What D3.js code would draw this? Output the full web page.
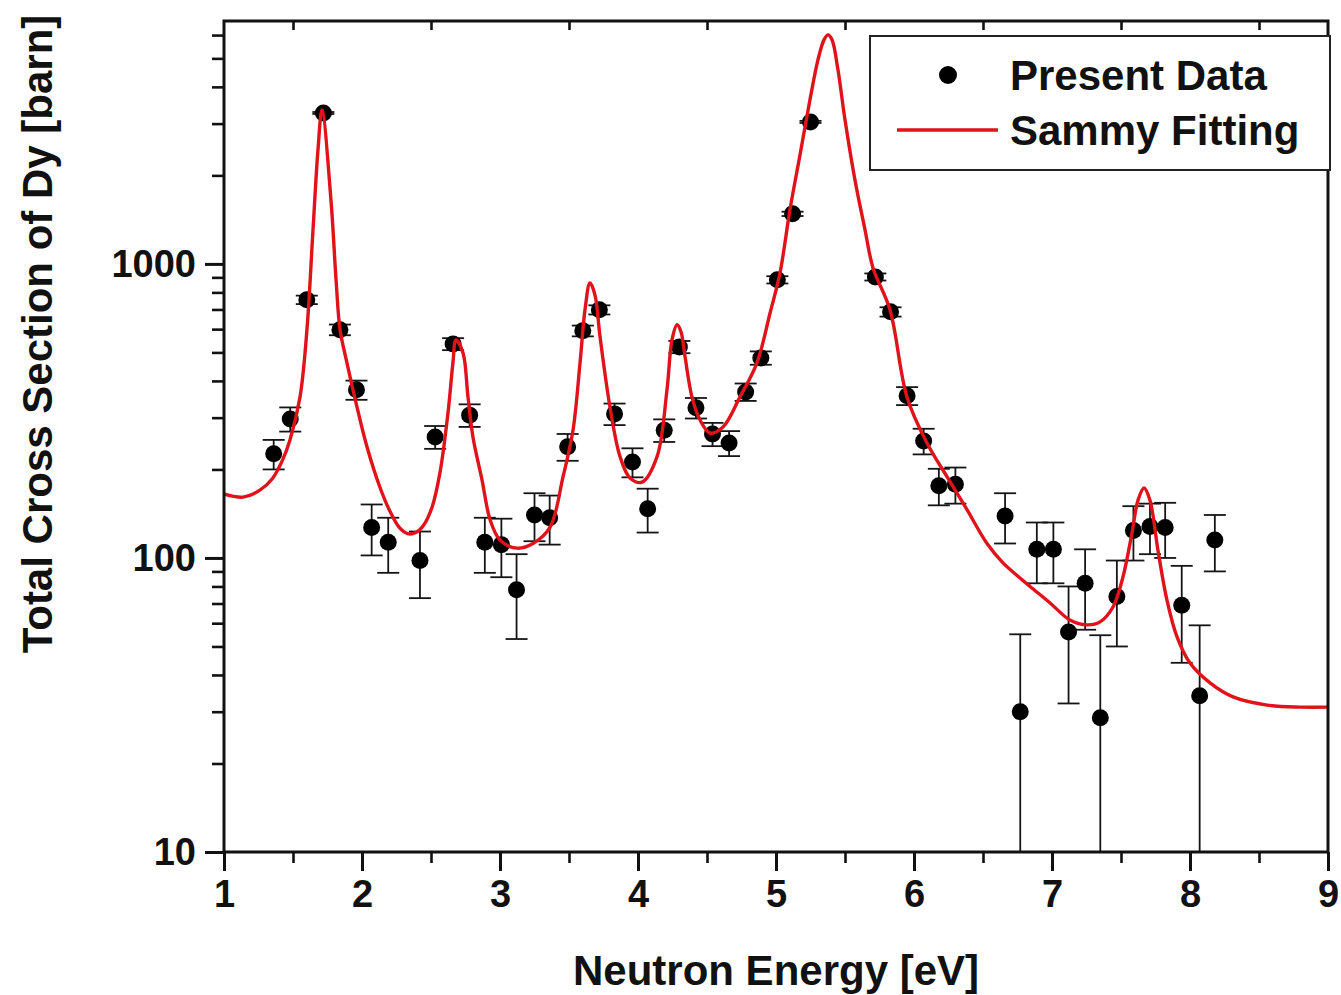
<!DOCTYPE html>
<html>
<head>
<meta charset="utf-8">
<script src="https://cdn.jsdelivr.net/npm/d3@7"></script>
<style>
  html, body { margin: 0; padding: 0; background: #fff; }
  svg { display: block; font-family: "Liberation Sans", Arial, sans-serif; font-weight: bold; }
</style>
</head>
<body>
<svg id="chart" width="1341" height="995"></svg>
<script>
// Measured total cross section of Dy (barn) versus neutron energy (eV)
const energy = [1.36, 1.48, 1.60, 1.72, 1.84, 1.96, 2.07, 2.19, 2.42, 2.53,
                2.66, 2.78, 2.89, 3.01, 3.12, 3.25, 3.36, 3.49, 3.60, 3.72,
                3.83, 3.96, 4.07, 4.19, 4.30, 4.42, 4.54, 4.66, 4.78, 4.89,
                5.01, 5.12, 5.25, 5.72, 5.83, 5.95, 6.07, 6.18, 6.30, 6.66,
                6.77, 6.89, 7.01, 7.12, 7.24, 7.35, 7.47, 7.59, 7.71, 7.82,
                7.94, 8.07, 8.18];
const crossSection = [226, 297, 755, 3260, 597, 373, 127, 113, 98, 258,
                      534, 306, 113, 111, 78, 140, 137, 239, 592, 698,
                      309, 212, 147, 272, 522, 324, 264, 246, 367, 479,
                      883, 1480, 3040, 903, 687, 356, 250, 176, 178, 139,
                      30, 107, 107, 56, 82, 28.6, 74, 124, 128, 127,
                      69, 34, 115];
const uncertainty = [26, 28, 25, 25, 25, 28, 25, 24, 25, 23,
                     25, 27, 24, 25, 25, 26, 26, 25, 25, 25,
                     26, 24, 25, 24, 25, 26, 24, 24, 25, 25,
                     25, 25, 25, 25, 25, 25, 25, 25, 25, 27,
                     25, 25, 25, 24, 25, 26, 24, 26, 25, 27,
                     25, 25, 25];

// SAMMY resonance-fit curve
const fitEnergy = [1.000, 1.138, 1.260, 1.350, 1.420, 1.478, 1.551, 1.601, 1.645, 1.681, 1.710,
                   1.775, 1.812, 1.841, 1.891, 1.964, 2.036, 2.130, 2.200, 2.270, 2.330,
                   2.390, 2.450, 2.510, 2.565, 2.623, 2.659, 2.681, 2.732, 2.768, 2.804,
                   2.870, 2.928, 3.000, 3.123, 3.239, 3.362, 3.457, 3.529, 3.580, 3.616,
                   3.652, 3.688, 3.725, 3.797, 3.870, 3.942, 4.029, 4.138, 4.210, 4.246,
                   4.283, 4.312, 4.341, 4.391, 4.449, 4.522, 4.616, 4.739, 4.862, 4.957,
                   5.029, 5.101, 5.174, 5.246, 5.304, 5.348, 5.377, 5.406, 5.449, 5.500,
                   5.572, 5.645, 5.703, 5.826, 5.949, 6.094, 6.239, 6.384, 6.529, 6.645,
                   6.768, 6.841, 6.986, 7.130, 7.254, 7.348, 7.442, 7.514, 7.580, 7.623,
                   7.667, 7.710, 7.768, 7.833, 7.906, 8.000, 8.145, 8.312, 8.558, 8.797,
                   9.000];
const fitCrossSection = [165, 161, 170, 186, 213, 252, 353, 597, 1306, 2443, 3340,
                         1651, 883, 597, 461, 326, 239, 174, 145, 127, 121,
                         122, 130, 150, 195, 311, 461, 551, 498, 353, 258,
                         184, 135, 115, 108, 112, 127, 189, 272, 461, 698,
                         861, 785, 565, 326, 221, 187, 181, 221, 373, 551,
                         621, 587, 483, 353, 295, 266, 279, 353, 461, 681,
                         932, 1527, 2349, 3613, 4943, 5781, 6010, 5781, 4571, 3090,
                         1931, 1306, 969, 698, 353, 246, 189, 146, 112, 96.2,
                         85.5, 80.0, 70.3, 61.5, 59.2, 60.6, 68.1, 86.1, 122, 157,
                         173, 157, 106, 71.9, 53.9, 43.9, 37.6, 33.7, 31.6, 31.1,
                         31.1];

const xMajorTicks = [1, 2, 3, 4, 5, 6, 7, 8, 9];
const xMinorTicks = [1.5, 2.5, 3.5, 4.5, 5.5, 6.5, 7.5, 8.5];
const yMajorTicks = [10, 100, 1000];
const yMinorTicks = [20, 30, 40, 50, 60, 70, 80, 90,
                     200, 300, 400, 500, 600, 700, 800, 900,
                     2000, 3000, 4000, 5000, 6000];
const legendLabels = ["Present Data", "Sammy Fitting"];

const svg = d3.select("#chart");
const frameLeft = 224, frameRight = 1328, frameTop = 21, frameBottom = 852;
const red = "#e0121a", ink = "#111";

const x = d3.scaleLinear().domain([1, 9]).range([frameLeft, frameRight]);
const y = d3.scaleLog().domain([10, 6700]).range([frameBottom, frameTop]);

svg.append("defs").append("clipPath").attr("id", "plot")
  .append("rect").attr("x", frameLeft).attr("y", frameTop)
  .attr("width", frameRight - frameLeft).attr("height", frameBottom - frameTop);

function styleAxis(g, width) {
  g.select(".domain").remove();
  g.selectAll(".tick line").attr("stroke", ink).attr("stroke-width", width);
  g.selectAll(".tick text").attr("fill", ink)
    .style("font-family", "'Liberation Sans', Arial, sans-serif")
    .style("font-weight", "bold");
}

// bottom axis: labelled majors and half-unit minors, ticks outward
svg.append("g").attr("transform", `translate(0,${frameBottom})`)
  .call(d3.axisBottom(x).tickValues(xMajorTicks).tickSize(19).tickPadding(9).tickFormat(d3.format("d")))
  .call(g => { styleAxis(g, 3); g.selectAll(".tick text").style("font-size", "38px"); });
svg.append("g").attr("transform", `translate(0,${frameBottom})`)
  .call(d3.axisBottom(x).tickValues(xMinorTicks).tickSize(11).tickFormat(""))
  .call(g => styleAxis(g, 2.6));

// top axis: short inward ticks at half units
svg.append("g").attr("transform", `translate(0,${frameTop})`)
  .call(d3.axisBottom(x).tickValues(xMinorTicks).tickSize(9).tickFormat(""))
  .call(g => styleAxis(g, 2.6));

// left log axis, ticks outward
svg.append("g").attr("transform", `translate(${frameLeft},0)`)
  .call(d3.axisLeft(y).tickValues(yMajorTicks).tickSize(19).tickPadding(9).tickFormat(d3.format("d")))
  .call(g => { styleAxis(g, 3); g.selectAll(".tick text").style("font-size", "38px"); });
svg.append("g").attr("transform", `translate(${frameLeft},0)`)
  .call(d3.axisLeft(y).tickValues(yMinorTicks).tickSize(12).tickFormat(""))
  .call(g => styleAxis(g, 2.6));

// data layer, clipped to the frame
const plot = svg.append("g").attr("clip-path", "url(#plot)");

const pts = energy.map((e, i) => ({ e, v: crossSection[i], err: uncertainty[i] }));

const bars = plot.append("g").attr("stroke", "#151515").attr("stroke-width", 1.8);
pts.forEach(d => {
  const lo = Math.max(d.v - d.err, 1e-3);
  const hi = d.v + d.err;
  const cx = x(d.e);
  const yHi = y(hi);
  const yLo = Math.min(y(lo), frameBottom + 20);
  bars.append("line").attr("x1", cx).attr("x2", cx).attr("y1", yHi).attr("y2", yLo);
  bars.append("line").attr("x1", cx - 11).attr("x2", cx + 11).attr("y1", yHi).attr("y2", yHi);
  if (y(lo) < frameBottom) {
    bars.append("line").attr("x1", cx - 11).attr("x2", cx + 11).attr("y1", y(lo)).attr("y2", y(lo));
  }
});

plot.append("g").selectAll("circle").data(pts).join("circle")
  .attr("cx", d => x(d.e)).attr("cy", d => y(d.v)).attr("r", 8.5)
  .attr("fill", "#000");

const fit = fitEnergy.map((e, i) => [e, fitCrossSection[i]]);
plot.append("path").datum(fit)
  .attr("fill", "none").attr("stroke", red).attr("stroke-width", 3.4)
  .attr("stroke-linejoin", "round")
  .attr("d", d3.line().x(d => x(d[0])).y(d => y(d[1])).curve(d3.curveCatmullRom.alpha(0.5)));

// frame
svg.append("rect").attr("x", frameLeft).attr("y", frameTop)
  .attr("width", frameRight - frameLeft).attr("height", frameBottom - frameTop)
  .attr("fill", "none").attr("stroke", ink).attr("stroke-width", 3);

// legend
const lg = svg.append("g");
lg.append("rect").attr("x", 870).attr("y", 36).attr("width", 460).attr("height", 134)
  .attr("fill", "#fff").attr("stroke", "#222").attr("stroke-width", 2);
lg.append("circle").attr("cx", 948).attr("cy", 75).attr("r", 9).attr("fill", "#000");
lg.append("line").attr("x1", 897).attr("x2", 998).attr("y1", 130).attr("y2", 130)
  .attr("stroke", red).attr("stroke-width", 3.4);
lg.selectAll("text").data(legendLabels).join("text")
  .attr("x", 1010).attr("y", (d, i) => 90 + i * 55)
  .attr("fill", ink).style("font-size", "42px").text(d => d);

// axis titles
svg.append("text").attr("x", (frameLeft + frameRight) / 2).attr("y", 985)
  .attr("text-anchor", "middle").attr("fill", ink).style("font-size", "42px")
  .text("Neutron Energy [eV]");
svg.append("text").attr("transform", "translate(52,334) rotate(-90)")
  .attr("text-anchor", "middle").attr("fill", ink).style("font-size", "42px")
  .text("Total Cross Section of Dy [barn]");
</script>
</body>
</html>
